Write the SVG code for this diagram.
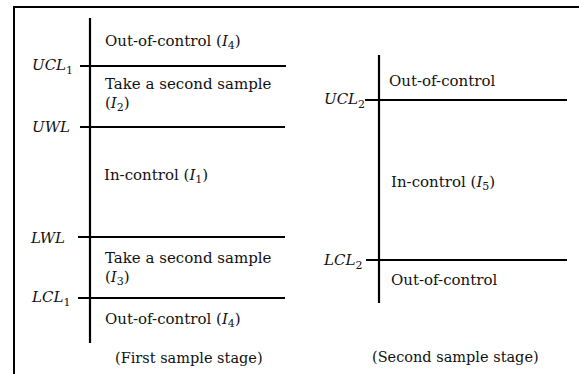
<svg xmlns="http://www.w3.org/2000/svg" width="579" height="374" viewBox="0 0 579 374">
<style>
.ln{stroke:#000;stroke-width:2.2;fill:none}
.frame{stroke:#000;stroke-width:2;fill:none}
.t{font-family:"DejaVu Serif",serif;font-size:15px;fill:#111}
.c{font-size:14.5px}
.m{font-family:"DejaVu Serif",serif;font-size:15px;font-style:italic;fill:#111}
.s{font-size:11px;font-style:normal}
</style>
<rect width="579" height="374" fill="#fff"/>
<path class="frame" d="M14,375 V7 H579"/>
<g id="stage1">
  <g id="axes1">
    <line class="ln" x1="90" y1="18" x2="90" y2="343"/>
    <line class="ln" x1="80" y1="66" x2="286" y2="66"/>
    <line class="ln" x1="80" y1="127" x2="285" y2="127"/>
    <line class="ln" x1="78" y1="237" x2="285" y2="237"/>
    <line class="ln" x1="78" y1="298" x2="285" y2="298"/>
  </g>
  <g id="limits1">
    <text class="m" x="32" y="70">UCL<tspan class="s" dy="4">1</tspan></text>
    <text class="m" x="32" y="132">UWL</text>
    <text class="m" x="31" y="243">LWL</text>
    <text class="m" x="32" y="302">LCL<tspan class="s" dy="4">1</tspan></text>
  </g>
  <g id="region-I4-top"><text class="t" x="105" y="46">Out-of-control (<tspan class="m">I</tspan><tspan class="s" dy="3">4</tspan><tspan dy="-3">)</tspan></text></g>
  <g id="region-I2"><text class="t" x="105" y="89">Take a second sample</text><text class="t" x="105" y="108">(<tspan class="m">I</tspan><tspan class="s" dy="3">2</tspan><tspan dy="-3">)</tspan></text></g>
  <g id="region-I1"><text class="t" x="104" y="180">In-control (<tspan class="m">I</tspan><tspan class="s" dy="3">1</tspan><tspan dy="-3">)</tspan></text></g>
  <g id="region-I3"><text class="t" x="105" y="263">Take a second sample</text><text class="t" x="105" y="282">(<tspan class="m">I</tspan><tspan class="s" dy="3">3</tspan><tspan dy="-3">)</tspan></text></g>
  <g id="region-I4-bottom"><text class="t" x="105" y="324">Out-of-control (<tspan class="m">I</tspan><tspan class="s" dy="3">4</tspan><tspan dy="-3">)</tspan></text></g>
  <g id="caption1"><text class="t c" x="115" y="363">(First sample stage)</text></g>
</g>
<g id="stage2">
  <g id="axes2">
    <line class="ln" x1="379" y1="55" x2="379" y2="303"/>
    <line class="ln" x1="365" y1="100" x2="567" y2="100"/>
    <line class="ln" x1="366" y1="260" x2="567" y2="260"/>
  </g>
  <g id="limits2">
    <text class="m" x="324" y="104">UCL<tspan class="s" dy="4">2</tspan></text>
    <text class="m" x="324" y="265">LCL<tspan class="s" dy="4">2</tspan></text>
  </g>
  <g id="region2-top"><text class="t" x="389" y="86">Out-of-control</text></g>
  <g id="region-I5"><text class="t" x="391" y="187">In-control (<tspan class="m">I</tspan><tspan class="s" dy="3">5</tspan><tspan dy="-3">)</tspan></text></g>
  <g id="region2-bottom"><text class="t" x="391" y="285">Out-of-control</text></g>
  <g id="caption2"><text class="t c" x="372" y="362">(Second sample stage)</text></g>
</g>
</svg>
